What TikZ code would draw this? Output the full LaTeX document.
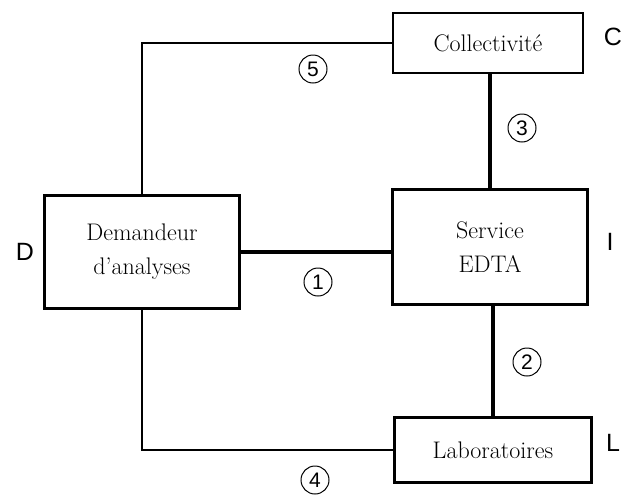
\documentclass[tikz,border=0pt]{standalone}
\usepackage{fontspec}
\newfontfamily\lblfont{Liberation Sans}
\usetikzlibrary{positioning}

\begin{document}
\begin{tikzpicture}[x=1pt, y=-1pt]
    \tikzstyle{box} = [rectangle, draw, line width=2.2pt, align=center, inner sep=0pt, font=\fontsize{24}{34}\selectfont]
    \tikzstyle{tag} = [font=\lblfont\fontsize{25}{25}\selectfont]
    \tikzstyle{num} = [circle, draw, line width=1pt, minimum size=28pt, inner sep=0pt, font=\lblfont\fontsize{21}{21}\selectfont]
    \tikzstyle{thinline} = [line width=1.2pt]
    \tikzstyle{heavy} = [line width=3.6pt]

    \useasboundingbox (0,0) rectangle (622,496);

    \node [box, minimum width=190pt, minimum height=60pt] (coll) at (488,43) {Collectivité};
    \node [box, minimum width=195pt, minimum height=115pt] (serv) at (490,247) {Service\\EDTA};
    \node [box, minimum width=195pt, minimum height=113pt] (dem) at (142,252) {Demandeur\\d'analyses};
    \node [box, minimum width=197pt, minimum height=65pt] (lab) at (493,450) {Laboratoires};

    \node [tag] (c) at (613,37) {C};
    \node [tag] (i) at (610,242) {I};
    \node [tag] (d) at (25,252) {D};
    \node [tag] (l) at (613,443) {L};

    \draw [thinline] (dem.north) |- (coll.west);
    \draw [thinline] (dem.south) |- (lab.west);
    \draw [heavy] (dem.east) -- (dem.east -| serv.west);
    \draw [heavy] (coll.south -| serv.north) -- (serv.north);
    \draw [heavy] (serv.south -| lab.north) -- (lab.north);

    \node [num] (n1) at (318,282) {1};
    \node [num] (n2) at (527,362) {2};
    \node [num] (n3) at (522,128) {3};
    \node [num] (n4) at (315,480) {4};
    \node [num] (n5) at (313,69) {5};
\end{tikzpicture}
\end{document}
